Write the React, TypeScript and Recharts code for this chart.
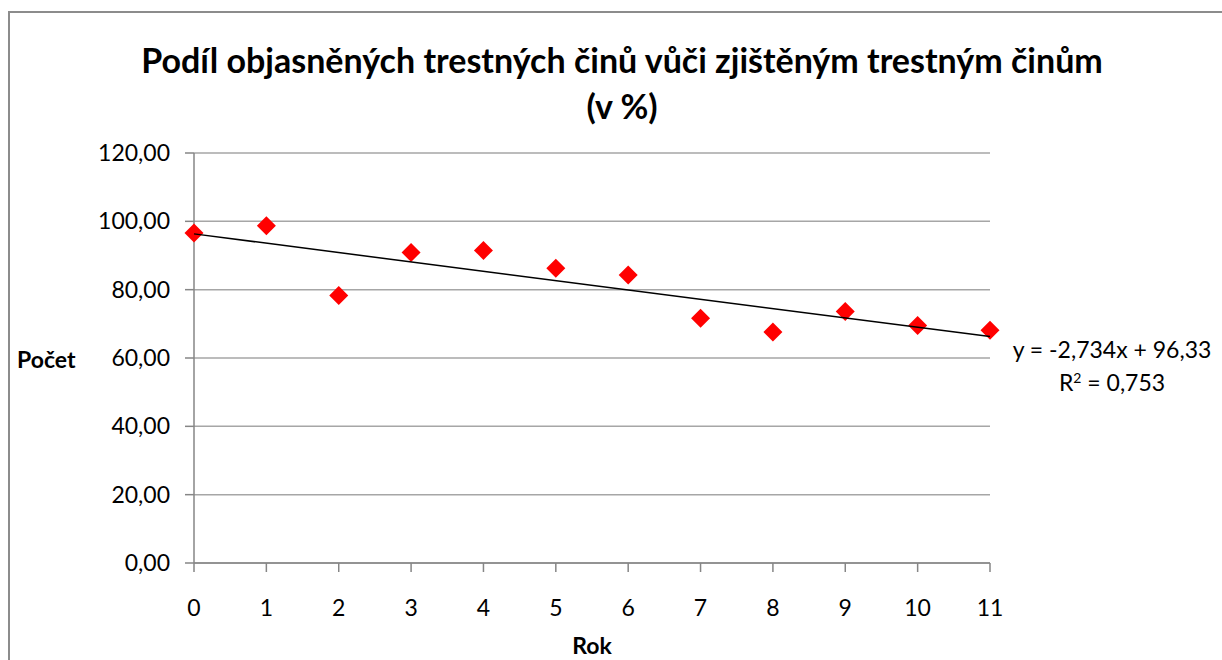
import { ScatterChart, Scatter, XAxis, YAxis, CartesianGrid } from "recharts";

// Year index (Rok) and share of solved crimes (Počet, %)
const years = [0, 1, 2, 3, 4, 5, 6, 7, 8, 9, 10, 11];
const shares = [96.6, 98.7, 78.3, 90.9, 91.5, 86.3, 84.3, 71.6, 67.6, 73.6, 69.5, 68.1];

// Linear trendline endpoints (y = -2,734x + 96,33)
const trendYears = [0, 11];
const trendValues = [96.33, 66.26];

const xTicks = [0, 1, 2, 3, 4, 5, 6, 7, 8, 9, 10, 11];
const yTicks = [0, 20, 40, 60, 80, 100, 120];

const points = years.map((x, i) => ({ x, y: shares[i] }));
const trend = trendYears.map((x, i) => ({ x, y: trendValues[i] }));

const FONT = "Lato, 'Open Sans', sans-serif";
const AXIS = "#868686";

/** Red diamond marker like the Excel one */
function Diamond(props: { cx?: number; cy?: number }) {
  const { cx = 0, cy = 0 } = props;
  const r = 9.5;
  return (
    <polygon
      points={`${cx},${cy - r} ${cx + r},${cy} ${cx},${cy + r} ${cx - r},${cy}`}
      fill="#ff0000"
    />
  );
}

function NoDot() {
  return <g />;
}

export default function App() {
  return (
    <div
      style={{
        position: "fixed",
        left: 0,
        top: 0,
        width: 1222,
        height: 660,
        background: "#fff",
        fontFamily: FONT,
        overflow: "hidden",
      }}
    >
      {/* chart frame */}
      <div
        style={{
          position: "absolute",
          left: 8,
          top: 11,
          width: 1230,
          height: 700,
          border: "2px solid #8c8c8c",
          boxSizing: "border-box",
        }}
      />
      <div
        style={{
          position: "absolute",
          left: 0,
          width: 1244,
          top: 37,
          textAlign: "center",
          fontWeight: 700,
          fontSize: 34,
          lineHeight: "46px",
          color: "#000",
        }}
      >
        Podíl objasněných trestných činů vůči zjištěným trestným činům
        <br />
        (v %)
      </div>

      <div style={{ position: "absolute", left: 0, top: 0 }}>
        <ScatterChart
          width={1222}
          height={660}
          margin={{ top: 153, right: 232, bottom: 57, left: 114 }}
        >
          <CartesianGrid vertical={false} stroke="#a6a6a6" strokeWidth={1.5} />
          <XAxis
            type="number"
            dataKey="x"
            domain={[0, 11]}
            ticks={xTicks}
            interval={0}
            height={40}
            stroke={AXIS}
            strokeWidth={1.5}
            tickSize={9}
            tickMargin={28}
            tick={{ fill: "#000", fontSize: 23, fontFamily: FONT }}
          />
          <YAxis
            type="number"
            dataKey="y"
            domain={[0, 120]}
            ticks={yTicks}
            interval={0}
            width={80}
            stroke={AXIS}
            strokeWidth={1.5}
            tickSize={9}
            tickMargin={15}
            tickFormatter={(v: number) => v.toFixed(2).replace(".", ",")}
            tick={{ fill: "#000", fontSize: 23, fontFamily: FONT }}
          />
          <Scatter data={points} shape={<Diamond />} isAnimationActive={false} />
          <Scatter
            data={trend}
            line={{ stroke: "#000", strokeWidth: 1.5 }}
            lineType="joint"
            shape={<NoDot />}
            isAnimationActive={false}
          />
        </ScatterChart>
      </div>

      {/* axis titles */}
      <div
        style={{
          position: "absolute",
          left: 17,
          top: 345,
          fontWeight: 700,
          fontSize: 23,
        }}
      >
        Počet
      </div>
      <div
        style={{
          position: "absolute",
          left: 542,
          width: 100,
          top: 631,
          textAlign: "center",
          fontWeight: 700,
          fontSize: 23,
        }}
      >
        Rok
      </div>

      {/* trendline equation */}
      <div
        style={{
          position: "absolute",
          left: 1000,
          width: 224,
          top: 333,
          textAlign: "center",
          fontSize: 23,
          lineHeight: "33px",
        }}
      >
        y = -2,734x + 96,33
        <br />
        R<sup style={{ fontSize: 14, verticalAlign: "8px", lineHeight: 0 }}>2</sup> = 0,753
      </div>
    </div>
  );
}
